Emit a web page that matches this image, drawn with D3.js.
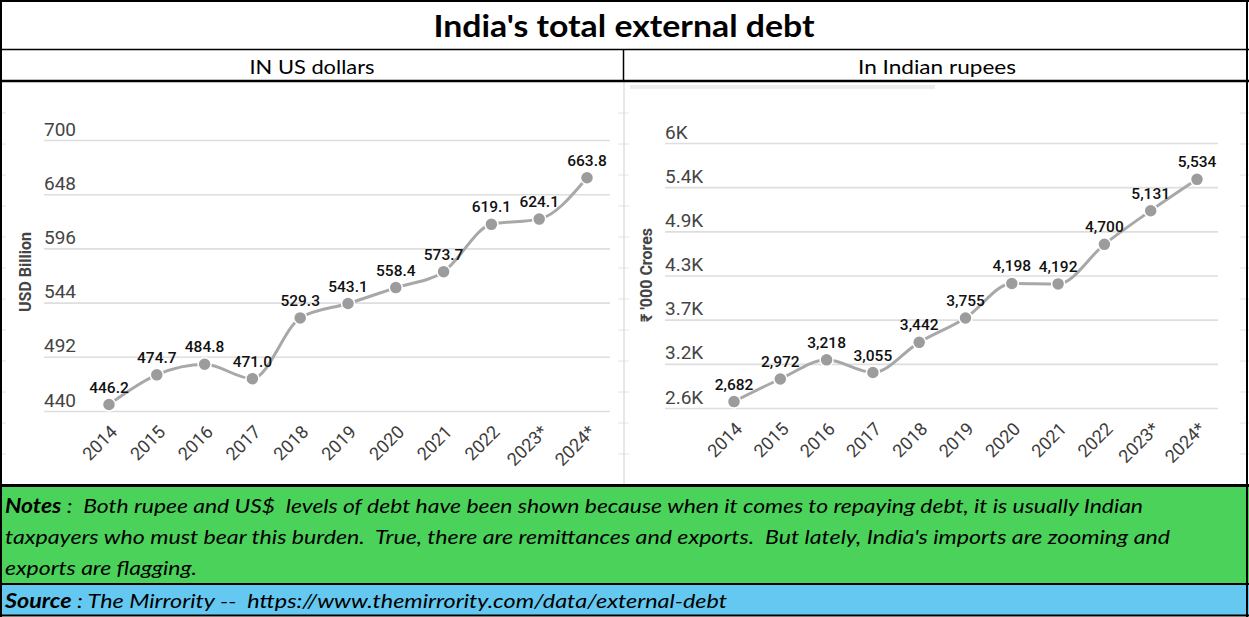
<!DOCTYPE html>
<html>
<head>
<meta charset="utf-8">
<script src="https://cdn.jsdelivr.net/npm/d3@7"></script>
<style>
  html, body { margin: 0; padding: 0; background: #fff; }
  svg { display: block; }
  text { white-space: pre; }
</style>
</head>
<body>
<svg id="chart" width="1249" height="617"></svg>
<script>
// data
var years = ["2014", "2015", "2016", "2017", "2018", "2019", "2020", "2021", "2022", "2023*", "2024*"]
var usdValues = [446.2, 474.7, 484.8, 471.0, 529.3, 543.1, 558.4, 573.7, 619.1, 624.1, 663.8]
var inrValues = [2682, 2972, 3218, 3055, 3442, 3755, 4198, 4192, 4700, 5131, 5534]
var usdTickLabels = ["440", "492", "544", "596", "648", "700"]
var inrTickLabels = ["2.6K", "3.2K", "3.7K", "4.3K", "4.9K", "5.4K", "6K"]

var titleText = "India's total external debt"
var leftHeader = "IN US dollars"
var rightHeader = "In Indian rupees"
var noteLines = [
  ["Notes", " :  Both rupee and US$  levels of debt have been shown because when it comes to repaying debt, it is usually Indian"],
  ["", "taxpayers who must bear this burden.  True, there are remittances and exports.  But lately, India's imports are zooming and"],
  ["", "exports are flagging."]
]
var sourceLine = ["Source", " : The Mirrority --  https://www.themirrority.com/data/external-debt"]

var W = 1249, H = 617
var svg = d3.select("#chart")
var xlFont = "Lato, 'Open Sans', sans-serif"
var chFont = "Roboto, 'Noto Sans', sans-serif"

// spreadsheet background with faint cell lines
svg.append("rect").attr("width", W).attr("height", H).attr("fill", "#fff")
var cellRows = d3.range(113, 480, 31)
svg.selectAll(".cellrow").data(cellRows).enter().append("line")
  .attr("x1", 0).attr("x2", W).attr("y1", d => d).attr("y2", d => d)
  .attr("stroke", "#e4e4e4").attr("stroke-width", 1)
svg.append("rect").attr("x", 6).attr("y", 83).attr("width", 612).attr("height", 401).attr("fill", "#fff")
svg.append("rect").attr("x", 629).attr("y", 83).attr("width", 611).attr("height", 401).attr("fill", "#fff")
svg.append("line").attr("x1", 624).attr("x2", 624).attr("y1", 82).attr("y2", 485)
  .attr("stroke", "#d0d0d0").attr("stroke-width", 1)
svg.append("rect").attr("x", 630).attr("y", 85).attr("width", 305).attr("height", 4).attr("fill", "#ececec")

// notes + source boxes
svg.append("rect").attr("x", 0).attr("y", 486).attr("width", W).attr("height", 98).attr("fill", "#4bd25a")
svg.append("rect").attr("x", 0).attr("y", 584).attr("width", W).attr("height", 31).attr("fill", "#64c8f0")

// title and headers
svg.append("text").attr("x", 624).attr("y", 37).attr("text-anchor", "middle")
  .attr("font-family", xlFont).attr("font-weight", "bold").attr("font-size", 30)
  .attr("textLength", 381).attr("lengthAdjust", "spacingAndGlyphs")
  .attr("fill", "#000").text(titleText)
svg.append("text").attr("x", 312).attr("y", 74).attr("text-anchor", "middle")
  .attr("font-family", xlFont).attr("font-size", 20)
  .attr("textLength", 125).attr("lengthAdjust", "spacingAndGlyphs")
  .attr("fill", "#000").text(leftHeader)
svg.append("text").attr("x", 937).attr("y", 74).attr("text-anchor", "middle")
  .attr("font-family", xlFont).attr("font-size", 20)
  .attr("textLength", 158).attr("lengthAdjust", "spacingAndGlyphs")
  .attr("fill", "#000").text(rightHeader)

var noteLengths = [1138, 1165, 192]
noteLines.forEach(function(l, i) {
  var t = svg.append("text").attr("x", 5).attr("y", 513 + i * 31)
    .attr("font-family", xlFont).attr("font-size", 20).attr("font-style", "italic")
    .attr("fill", "#000")
    .attr("textLength", noteLengths[i]).attr("lengthAdjust", "spacingAndGlyphs")
  if (l[0]) t.append("tspan").attr("font-weight", "bold").text(l[0])
  t.append("tspan").text(l[1])
})
var st = svg.append("text").attr("x", 5).attr("y", 608)
  .attr("font-family", xlFont).attr("font-size", 20).attr("font-style", "italic")
  .attr("fill", "#000").attr("textLength", 722).attr("lengthAdjust", "spacingAndGlyphs")
st.append("tspan").attr("font-weight", "bold").text(sourceLine[0])
st.append("tspan").text(sourceLine[1])

// borders
function hline(y, w) {
  svg.append("line").attr("x1", 0).attr("x2", W).attr("y1", y).attr("y2", y)
    .attr("stroke", "#000").attr("stroke-width", w)
}
hline(1, 2)
hline(49.5, 1.5)
hline(81, 2.5)
hline(485.5, 3)
hline(584, 2)
hline(615.5, 2)
svg.append("line").attr("x1", 623.5).attr("x2", 623.5).attr("y1", 49).attr("y2", 81)
  .attr("stroke", "#000").attr("stroke-width", 1.5)
svg.append("line").attr("x1", 1).attr("x2", 1).attr("y1", 0).attr("y2", H)
  .attr("stroke", "#000").attr("stroke-width", 2)
svg.append("line").attr("x1", 1247).attr("x2", 1247).attr("y1", 0).attr("y2", H)
  .attr("stroke", "#000").attr("stroke-width", 2)

function drawPanel(opt) {
  var g = svg.append("g")
  var x = d3.scalePoint().domain(years).range(opt.xRange)
  var y = d3.scaleLinear().domain(opt.domain).range(opt.yRange)

  // gridlines + y labels
  var yAxis = d3.axisRight(y).tickValues(opt.tickValues)
    .tickFormat((d, i) => opt.tickLabels[i])
    .tickSize(opt.gridRight - opt.gridLeft).tickPadding(0)
  var ya = g.append("g").attr("transform", "translate(" + opt.gridLeft + ",0)").call(yAxis)
  ya.select(".domain").remove()
  ya.selectAll(".tick line").attr("stroke", "#dedede").attr("stroke-width", 1.6)
  ya.selectAll(".tick text").attr("x", 0).attr("y", 0).attr("dy", "-5").attr("text-anchor", "start")
    .attr("font-family", chFont).attr("font-size", 19).attr("fill", "#444")

  // x labels
  var xAxis = d3.axisBottom(x).tickSize(0).tickPadding(0)
  var xa = g.append("g").attr("transform", "translate(0," + opt.yRange[0] + ")").call(xAxis)
  xa.select(".domain").remove()
  xa.selectAll(".tick text").attr("y", 0).attr("dy", 0).attr("text-anchor", "end")
    .attr("transform", "translate(9,22) rotate(-45)")
    .attr("font-family", chFont).attr("font-size", 18).attr("fill", "#3c3c3c")

  // axis title
  g.append("text")
    .attr("transform", "translate(" + opt.titleX + "," + opt.titleY + ") rotate(-90)")
    .attr("text-anchor", "middle").attr("dy", "0.35em")
    .attr("font-family", chFont).attr("font-weight", "bold").attr("font-size", 16)
    .attr("fill", "#444").text(opt.title)

  // line
  var line = d3.line().x((d, i) => x(years[i])).y(d => y(d)).curve(d3.curveMonotoneX)
  g.append("path").datum(opt.values).attr("d", line)
    .attr("fill", "none").attr("stroke", "#a8a8a8").attr("stroke-width", 3)

  g.selectAll(".pt").data(opt.values).enter().append("circle")
    .attr("cx", (d, i) => x(years[i])).attr("cy", d => y(d)).attr("r", 6.5)
    .attr("fill", "#9c9c9c").attr("stroke", "#fff").attr("stroke-width", 1.5)

  g.selectAll(".lbl").data(opt.values).enter().append("text")
    .attr("x", (d, i) => x(years[i])).attr("y", d => y(d) - 12)
    .attr("text-anchor", "middle")
    .attr("font-family", chFont).attr("font-weight", 500).attr("font-size", 15.5)
    .attr("fill", "#111").text(d => opt.fmt(d))
}

drawPanel({
  values: usdValues,
  domain: [440, 700],
  tickValues: d3.range(6).map(i => 440 + i * 52),
  tickLabels: usdTickLabels,
  xRange: [109, 587],
  yRange: [411, 140],
  gridLeft: 44, gridRight: 610,
  title: "USD Billion", titleX: 25, titleY: 272,
  fmt: d3.format(".1f")
})

drawPanel({
  values: inrValues,
  domain: [2600, 6000],
  tickValues: d3.range(7).map(i => 2600 + i * 3400 / 6),
  tickLabels: inrTickLabels,
  xRange: [734, 1197],
  yRange: [408, 143],
  gridLeft: 665, gridRight: 1218,
  title: "₹ '000 Crores", titleX: 646, titleY: 275,
  fmt: d3.format(",")
})
</script>
</body>
</html>
